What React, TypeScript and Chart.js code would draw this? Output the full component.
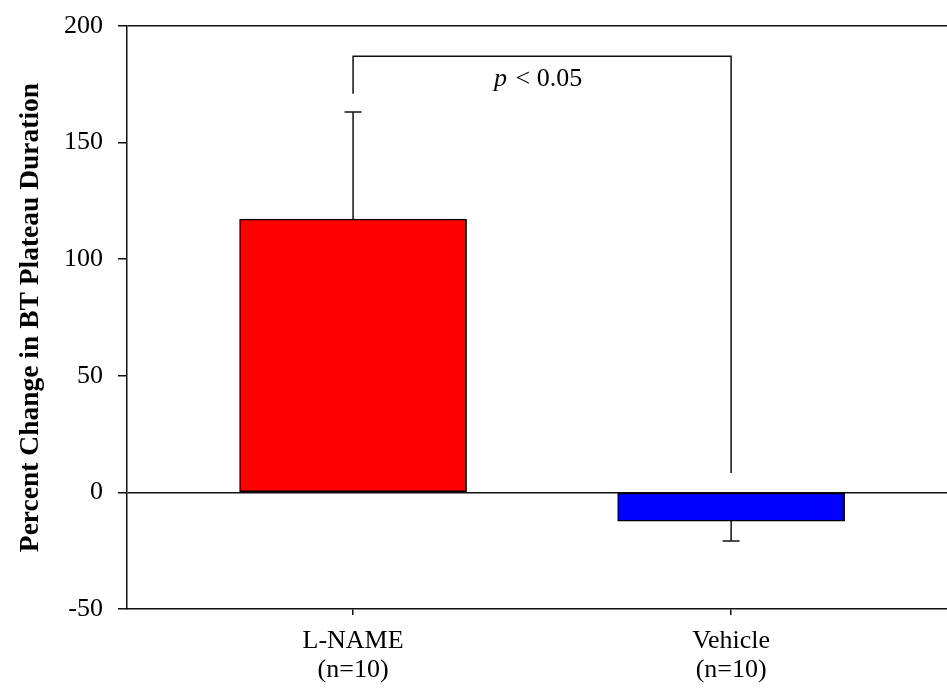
import React, { useEffect, useRef } from "react";
import { Chart, registerables } from "chart.js";

Chart.register(...registerables);

const categories = [["L-NAME", "(n=10)"], ["Vehicle", "(n=10)"]];
const categoryPositions = [1, 2];
const meanValues = [117.2, -12.3];
const semValues = [45.9, 8.5];
const barColors = ["#ff0000", "#0000ff"];
const yTitle = "Percent Change in BT Plateau Duration";
const yMin = -50;
const yMax = 200;
const yStep = 50;
const xMin = 0.402;
const xMax = 2.571;
// significance bracket (data units)
const bracketTop = 187;
const bracketLeftBottom = 171;
const bracketRightBottom = 8.3;
const bracketTextY = 177;
const pLabel = "p";
const pRest = " < 0.05";

const FONT = '"Liberation Serif", "Times New Roman", serif';
const INK = "#111";

const errorBarPlugin = {
  id: "errorBars",
  afterDatasetsDraw(chart: any) {
    const { ctx, scales } = chart;
    const xs = scales.x;
    const ys = scales.y;
    ctx.save();
    ctx.strokeStyle = INK;
    ctx.lineWidth = 1.5;
    meanValues.forEach((m, i) => {
      const x = xs.getPixelForValue(categoryPositions[i]);
      const y1 = ys.getPixelForValue(m);
      const end = m >= 0 ? m + semValues[i] : m - semValues[i];
      const y2 = ys.getPixelForValue(end);
      ctx.beginPath();
      ctx.moveTo(x, y1);
      ctx.lineTo(x, y2);
      ctx.moveTo(x - 8.5, y2);
      ctx.lineTo(x + 8.5, y2);
      ctx.stroke();
    });
    // bracket
    const xl = xs.getPixelForValue(categoryPositions[0]);
    const xr = xs.getPixelForValue(categoryPositions[1]);
    const yt = ys.getPixelForValue(bracketTop);
    ctx.beginPath();
    ctx.moveTo(xl, ys.getPixelForValue(bracketLeftBottom));
    ctx.lineTo(xl, yt);
    ctx.lineTo(xr, yt);
    ctx.lineTo(xr, ys.getPixelForValue(bracketRightBottom));
    ctx.stroke();
    // p text
    const ty = ys.getPixelForValue(bracketTextY);
    ctx.fillStyle = "#000";
    ctx.textBaseline = "middle";
    ctx.font = `italic 26px ${FONT}`;
    const w1 = ctx.measureText(pLabel).width;
    ctx.font = `26px ${FONT}`;
    const w2 = ctx.measureText(pRest).width;
    const startX = (xl + xr) / 2 - (w1 + w2) / 2 - 5;
    ctx.font = `italic 26px ${FONT}`;
    ctx.textAlign = "left";
    ctx.fillText(pLabel, startX, ty);
    ctx.font = `26px ${FONT}`;
    ctx.fillText(pRest, startX + w1 + 2, ty);
    ctx.restore();
  },
};

export default function App() {
  const ref = useRef<HTMLCanvasElement>(null);
  useEffect(() => {
    if (!ref.current) return;
    const chart = new Chart(ref.current, {
      type: "bar",
      data: {
        datasets: [
          {
            data: meanValues.map((v, i) => ({ x: categoryPositions[i], y: v })),
            backgroundColor: barColors,
            borderColor: "#000",
            borderWidth: 1.5,
            borderSkipped: false,
            barThickness: 227,
          } as any,
        ],
      },
      options: {
        animation: false,
        responsive: false,
        maintainAspectRatio: false,
        layout: { padding: { top: 26, right: 0, left: 0, bottom: 0 } },
        plugins: { legend: { display: false }, tooltip: { enabled: false } },
        scales: {
          x: {
            type: "linear",
            offset: false,
            min: xMin,
            max: xMax,
            afterBuildTicks: (scale: any) => {
              scale.ticks = categoryPositions.map((v) => ({ value: v }));
            },
            afterFit: (scale: any) => {
              scale.height = 81;
              scale.paddingLeft = 0;
              scale.paddingRight = 0;
            },
            grid: {
              offset: false,
              drawOnChartArea: false,
              drawTicks: true,
              tickLength: 6,
              color: INK,
              lineWidth: 1.5,
            },
            border: { display: true, color: INK, width: 1.5 },
            ticks: {
              padding: 12,
              color: "#000",
              maxRotation: 0,
              autoSkip: false,
              font: { family: FONT, size: 26, lineHeight: 1.1 },
              callback: (_v: any, i: number) => categories[i],
            },
          },
          y: {
            min: yMin,
            max: yMax,
            afterFit: (scale: any) => {
              scale.width = 127;
              scale.paddingTop = 0;
              scale.paddingBottom = 0;
            },
            ticks: {
              stepSize: yStep,
              padding: 15,
              color: "#000",
              font: { family: FONT, size: 26 },
            },
            grid: {
              drawOnChartArea: true,
              tickLength: 9,
              lineWidth: 1.5,
              color: (c: any) =>
                c.tick && (c.tick.value === 0 || c.tick.value === yMax) ? INK : "rgba(0,0,0,0)",
              tickColor: INK,
            },
            border: { display: true, color: INK, width: 1.5 },
            title: {
              display: true,
              text: yTitle,
              color: "#000",
              font: { family: FONT, size: 27.5, weight: "bold" },
              padding: { top: 14, bottom: 0 },
            },
          },
        },
      },
      plugins: [errorBarPlugin],
    } as any);
    return () => chart.destroy();
  }, []);
  return (
    <div style={{ position: "absolute", left: 0, top: 0, width: 947, height: 690, background: "#fff" }}>
      <canvas ref={ref} width={947} height={690} />
    </div>
  );
}
